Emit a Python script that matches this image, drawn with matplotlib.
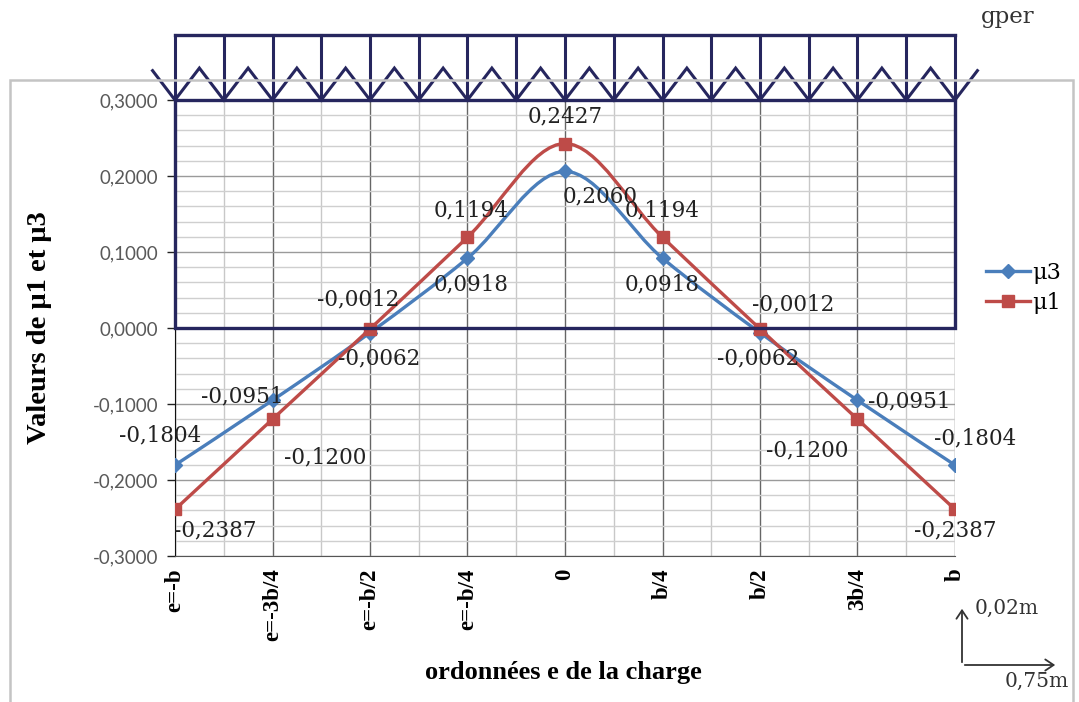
import numpy as np
import matplotlib
matplotlib.use("Agg")
import matplotlib.pyplot as plt
from matplotlib.path import Path
from matplotlib.patches import PathPatch, Rectangle, FancyArrowPatch
from matplotlib.lines import Line2D

# data
positions = ['e=-b', 'e=-3b/4', 'e=-b/2', 'e=-b/4', '0', 'b/4', 'b/2', '3b/4', 'b']
mu3 = [-0.1804, -0.0951, -0.0062, 0.0918, 0.2060, 0.0918, -0.0062, -0.0951, -0.1804]
mu1 = [-0.2387, -0.1200, -0.0012, 0.1194, 0.2427, 0.1194, -0.0012, -0.1200, -0.2387]

# label offsets in pixels (dx, dy) for each point
off_mu3 = [(-15, 30), (-30, 4), (9, -26), (4, -26), (35, -25), (0, -26), (-2, -26), (52, -1), (20, 27)]
off_mu1 = [(40, -21), (53, -38), (-12, 29), (4, 27), (0, 27), (0, 27), (33, 24), (-50, -31), (0, -21)]

BLUE = '#4a7ebb'
RED = '#be4b48'
NAVY = '#26265e'
SERIF = 'DejaVu Serif'
TIMES = 'Liberation Serif'


def fmt(v):
    return f"{v:.4f}".replace('.', ',')


def smooth_path(x, y):
    # excel style smoothed line: cubic bezier, catmull-rom control points
    p = np.column_stack([x, y]).astype(float)
    n = len(p)
    verts = [p[0]]
    codes = [Path.MOVETO]
    for i in range(n - 1):
        p0 = p[max(i - 1, 0)]
        p3 = p[min(i + 2, n - 1)]
        c1 = p[i] + (p[i + 1] - p0) / 6.0
        c2 = p[i + 1] - (p3 - p[i]) / 6.0
        verts += [c1, c2, p[i + 1]]
        codes += [Path.CURVE4] * 3
    return Path(verts, codes)


fig = plt.figure(figsize=(10.79, 7.02), dpi=100)
ax = fig.add_axes([175 / 1079, 1 - 556 / 702, 780 / 1079, 456 / 702])

xs = np.arange(len(positions))
ax.set_xlim(0, len(positions) - 1)
ax.set_ylim(-0.3, 0.3)

# grid
ax.set_yticks(np.arange(-0.3, 0.31, 0.1))
ax.set_yticks(np.arange(-0.3, 0.31, 0.02), minor=True)
ax.set_xticks(xs)
ax.set_xticks(xs[:-1] + 0.5, minor=True)
ax.grid(which='major', axis='x', color='#666666', lw=1.0)
ax.grid(which='minor', axis='x', color='#c8c8c8', lw=1.0)
ax.grid(which='major', axis='y', color='#9a9a9a', lw=1.0)
ax.grid(which='minor', axis='y', color='#cfcfcf', lw=1.0)
ax.set_axisbelow(True)
ax.axhline(0, color='#111111', lw=1.3, zorder=1.5)

for s in ['top', 'right']:
    ax.spines[s].set_visible(False)
ax.spines['left'].set_color('#111111')
ax.spines['bottom'].set_color('#555555')

ax.set_yticklabels([fmt(v) for v in np.arange(-0.3, 0.31, 0.1)],
                   fontsize=13.5, color='#595959', family='Lato')
ax.tick_params(axis='y', which='major', length=6, width=1, color='#222222', pad=6)
ax.tick_params(axis='y', which='minor', length=0)
ax.set_xticklabels(positions, rotation=90, fontsize=16.5, fontweight='bold',
                   family=TIMES, va='top', ha='center')
ax.tick_params(axis='x', which='both', length=0, pad=9)

# smoothed series
ax.add_patch(PathPatch(smooth_path(xs, mu3), fill=False, ec=BLUE, lw=2.4, zorder=3))
ax.plot(xs, mu3, ls='none', marker='D', ms=7, color=BLUE, zorder=4)
ax.add_patch(PathPatch(smooth_path(xs, mu1), fill=False, ec=RED, lw=2.4, zorder=5))
ax.plot(xs, mu1, ls='none', marker='s', ms=9, color=RED, zorder=6)

for i in range(len(xs)):
    ax.annotate(fmt(mu3[i]), (xs[i], mu3[i]), xytext=off_mu3[i], textcoords='offset pixels',
                ha='center', va='center', fontsize=15.5, family=SERIF, color='#222222', zorder=7)
    ax.annotate(fmt(mu1[i]), (xs[i], mu1[i]), xytext=off_mu1[i], textcoords='offset pixels',
                ha='center', va='center', fontsize=15.5, family=SERIF, color='#222222', zorder=7)

# load diagram: box from 0 to 0.3 and distributed load above
ax.add_patch(Rectangle((0, 0), xs[-1], 0.3, fill=False, ec=NAVY, lw=2.4, zorder=8, clip_on=False))
top = 0.3855
peak = 0.342
ax.plot([0, xs[-1]], [top, top], color=NAVY, lw=2.4, clip_on=False, solid_capstyle='projecting')
shafts = np.arange(0, xs[-1] + 0.01, 0.5)
for sx in shafts:
    ax.plot([sx, sx], [0.3, top], color=NAVY, lw=2.2, clip_on=False)
zx = [-0.23]
zy = [0.3 + (peak - 0.3) * 0.23 / 0.25]
for k, sx in enumerate(shafts):
    zx.append(sx)
    zy.append(0.3)
    if k < len(shafts) - 1:
        zx.append(sx + 0.25)
        zy.append(peak)
zx.append(xs[-1] + 0.23)
zy.append(zy[0])
ax.plot(zx, zy, color=NAVY, lw=2.2, clip_on=False, solid_joinstyle='miter')

# legend
handles = [Line2D([], [], color=BLUE, lw=2.4, marker='D', ms=7),
           Line2D([], [], color=RED, lw=2.4, marker='s', ms=9)]
fig.legend(handles, ['\u03bc3', '\u03bc1'], loc='center left',
           bbox_to_anchor=(966 / 1079, 1 - 288 / 702), frameon=False,
           prop={'family': SERIF, 'size': 16}, handlelength=2.0,
           handletextpad=0.1, labelspacing=0.35)

# axis titles
fig.text(40 / 1079, 1 - 328 / 702, 'Valeurs de \u03bc1 et \u03bc3', rotation=90,
         ha='center', va='center', fontsize=20.5, fontweight='bold', family=TIMES)
fig.text(563 / 1079, 1 - 673 / 702, 'ordonnées e de la charge',
         ha='center', va='center', fontsize=19, fontweight='bold', family=TIMES)
fig.text(1008 / 1079, 1 - 17 / 702, 'gper', ha='center', va='center',
         fontsize=16.5, family=SERIF, color='#333333')

# outer chart frame
fig.add_artist(Rectangle((10 / 1079, -0.01), 1063 / 1079, (702 - 80) / 702 + 0.01,
                         transform=fig.transFigure, fill=False, ec='#c4c4c4', lw=1.8))

# scale arrows
fig.add_artist(FancyArrowPatch(
    (962 / 1079, 1 - 665 / 702), (962 / 1079, 1 - 606 / 702), transform=fig.transFigure,
    arrowstyle='->,head_length=6,head_width=4', color='#333333', lw=1.3))
fig.add_artist(FancyArrowPatch(
    (962 / 1079, 1 - 665 / 702), (1058 / 1079, 1 - 665 / 702), transform=fig.transFigure,
    arrowstyle='->,head_length=6,head_width=4', color='#333333', lw=1.3))
fig.text(1007 / 1079, 1 - 608 / 702, '0,02m', ha='center', va='center',
         fontsize=14.5, family=SERIF, color='#333333')
fig.text(1037 / 1079, 1 - 681 / 702, '0,75m', ha='center', va='center',
         fontsize=14.5, family=SERIF, color='#333333')

fig.savefig('out.png', dpi=100)
